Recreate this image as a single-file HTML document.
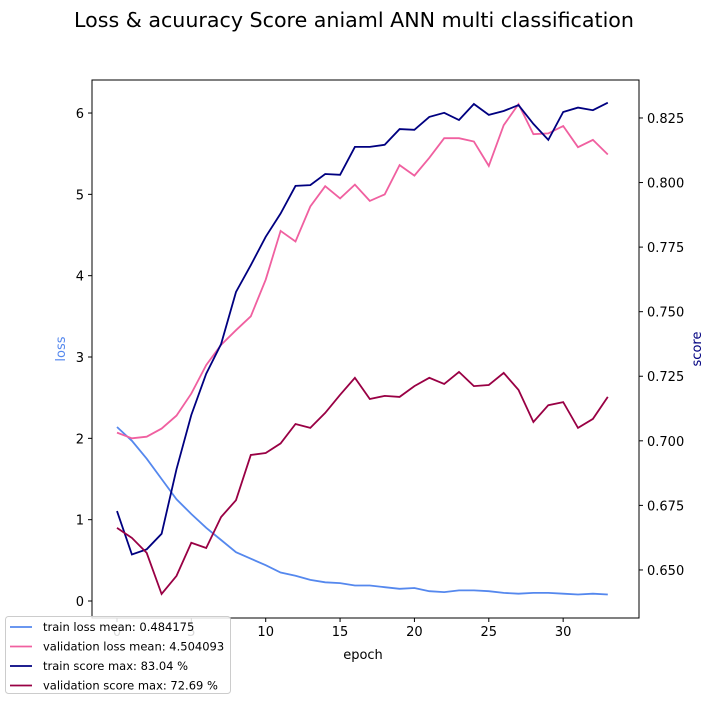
<!DOCTYPE html>
<html><head><meta charset="utf-8"><style>
body{margin:0;background:#fff;font-family:"Liberation Sans","DejaVu Sans",sans-serif}
svg text{font-family:"DejaVu Sans","Liberation Sans",sans-serif}
</style></head><body>
<svg id="chart" width="713" height="700" xmlns="http://www.w3.org/2000/svg">
<rect width="713" height="700" fill="#fff"/>
<text x="354" y="27" text-anchor="middle" font-size="20.6">Loss &amp; acuuracy Score aniaml ANN multi classification</text>
<g id="grid"></g>
<g id="marks"></g>
<rect x="92" y="80" width="547" height="538" fill="none" stroke="#000" stroke-width="1"/>
<text x="363" y="659" text-anchor="middle" font-size="13">epoch</text>
<text transform="translate(65,349) rotate(-90)" text-anchor="middle" font-size="13" fill="#5588ee">loss</text>
<text transform="translate(701,349) rotate(-90)" text-anchor="middle" font-size="13" fill="#000080">score</text>
<g id="legend"></g>
</svg>
<script>
const epochs=[0,1,2,3,4,5,6,7,8,9,10,11,12,13,14,15,16,17,18,19,20,21,22,23,24,25,26,27,28,29,30,31,32,33];
const trainLoss=[2.14,1.97,1.75,1.5,1.25,1.07,0.9,0.75,0.6,0.52,0.44,0.35,0.31,0.26,0.23,0.22,0.19,0.19,0.17,0.15,0.16,0.12,0.11,0.13,0.13,0.12,0.1,0.09,0.1,0.1,0.09,0.08,0.09,0.08];
const valLoss=[2.07,2.0,2.02,2.12,2.28,2.55,2.9,3.15,3.33,3.5,3.95,4.55,4.42,4.85,5.1,4.95,5.12,4.92,5.0,5.36,5.23,5.45,5.69,5.69,5.65,5.35,5.85,6.11,5.74,5.75,5.84,5.58,5.67,5.49];
const trainScore=[0.6728,0.656,0.658,0.664,0.689,0.71,0.726,0.7375,0.7576,0.768,0.779,0.788,0.7987,0.799,0.8033,0.803,0.8138,0.8138,0.8146,0.8207,0.8204,0.8254,0.827,0.8242,0.8304,0.8262,0.8277,0.83,0.8227,0.8165,0.8273,0.829,0.828,0.8309];
const valScore=[0.6663,0.6624,0.6566,0.6407,0.6477,0.6605,0.6585,0.6705,0.677,0.6945,0.6953,0.699,0.7065,0.705,0.7108,0.7178,0.7244,0.7162,0.7174,0.717,0.7212,0.7244,0.722,0.7267,0.7212,0.7216,0.7263,0.7197,0.7073,0.7138,0.715,0.705,0.7085,0.717];
const xTicks=[0,5,10,15,20,25,30];
const lossTicks=[0,1,2,3,4,5,6];
const scoreTicks=[0.650,0.675,0.700,0.725,0.750,0.775,0.800,0.825];
const legendLabels=["train loss mean: 0.484175","validation loss mean: 4.504093","train score max: 83.04 %","validation score max: 72.69 %"];

const NS="http://www.w3.org/2000/svg";
const L=92,R=639,T=80,B=618;
const xMin=-1.68,xMax=35.1,lMin=-0.209,lMax=6.406,sMin=0.6314,sMax=0.8397;
const sx=v=>L+(v-xMin)/(xMax-xMin)*(R-L);
const sl=v=>B-(v-lMin)/(lMax-lMin)*(B-T);
const ss=v=>B-(v-sMin)/(sMax-sMin)*(B-T);
function mk(tag,attrs,parent){const e=document.createElementNS(NS,tag);for(const k in attrs)e.setAttribute(k,attrs[k]);parent.appendChild(e);return e;}
const grid=document.getElementById('grid'),marks=document.getElementById('marks'),leg=document.getElementById('legend');
xTicks.forEach(t=>{const x=sx(t);
 const l=mk('line',{x1:x,x2:x,y1:B,y2:B+4,stroke:'#000'},grid);
 
 
 const tx=mk('text',{x:x,y:B+18,'text-anchor':'middle','font-size':13},grid);tx.textContent=t;
 
 });
lossTicks.forEach(t=>{const y=sl(t);
 const l=mk('line',{x1:L-4,x2:L,y1:y,y2:y,stroke:'#000'},grid);
 
 
 const tx=mk('text',{x:L-8,y:y+5,'text-anchor':'end','font-size':13},grid);tx.textContent=t;
 
 });
scoreTicks.forEach(t=>{const y=ss(t);
 const l=mk('line',{x1:R,x2:R+4,y1:y,y2:y,stroke:'#000'},grid);
 
 
 const tx=mk('text',{x:R+8,y:y+5,'font-size':13},grid);tx.textContent=t.toFixed(3);
 
 });
const series=[[trainLoss,sl,'#5588ee','train-loss-line'],[valLoss,sl,'#f060a0','validation-loss-line'],[trainScore,ss,'#000080','train-score-line'],[valScore,ss,'#990044','validation-score-line']];
series.forEach(s=>{const pts=s[0].map((v,i)=>sx(epochs[i]).toFixed(1)+','+s[1](v).toFixed(1)).join(' ');
 const p=mk('polyline',{points:pts,fill:'none',stroke:s[2],'stroke-width':1.8},marks);
 
 });
const box=mk('rect',{x:5.5,y:616.5,width:225,height:77,rx:3,fill:'#fff','fill-opacity':0.85,stroke:'#ccc'},leg);


legendLabels.forEach((lab,i)=>{const y=627+i*19.5;
 const ln=mk('line',{x1:10,x2:32,y1:y,y2:y,stroke:series[i][2],'stroke-width':1.8},leg);
 
 
 const tx=mk('text',{x:43,y:y+4,'font-size':11.5},leg);tx.textContent=lab;
 
 });
</script>
</body></html>
